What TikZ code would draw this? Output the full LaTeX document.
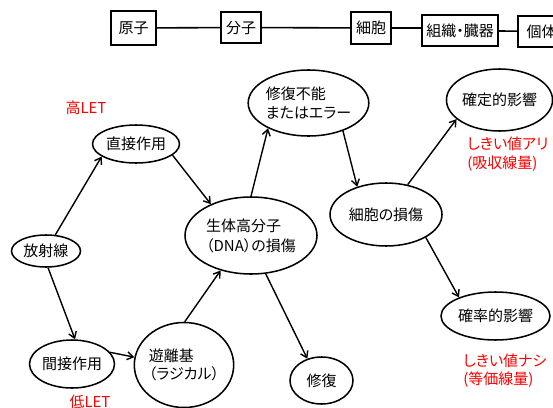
\documentclass[tikz,border=0pt]{standalone}
\usepackage{fontspec}
\setmainfont{Noto Sans CJK JP}[RawFeature=+palt]
\usetikzlibrary{arrows.meta,shapes}

\begin{document}
\begin{tikzpicture}[
    x=0.75pt, y=-0.75pt,
    level/.style={rectangle, draw=black, line width=1.6pt, inner sep=0pt, font=\fontsize{11.25}{13.5}\selectfont},
    stage/.style={ellipse, draw=black, line width=1.15pt, inner sep=0pt, align=left, font=\fontsize{11.25}{14}\selectfont},
    note/.style={text=red, align=left, inner sep=0pt, font=\fontsize{11.25}{14}\selectfont},
    arrow/.style={-{Straight Barb[length=4.5pt,width=6pt]}, line width=1.05pt},
    link/.style={line width=1.2pt}
]
\useasboundingbox (0,0) rectangle (553,407);

% Scale: from atom to organism
\node[level, minimum width=33.75pt, minimum height=25.5pt] (atom) at (133.5,28) {原子};
\node[level, minimum width=30pt, minimum height=23.25pt] (molecule) at (241,27.5) {分子};
\node[level, minimum width=30pt, minimum height=24pt] (cell) at (371,28) {細胞};
\node[level, minimum width=57pt, minimum height=23.25pt] (tissue) at (460,30.5) {組織・臓器};
\node[level, minimum width=35.25pt, minimum height=23.25pt] (body) at (541.5,31.5) {個体};

\draw[link] (atom) -- (molecule);
\draw[link] (molecule) -- (cell);
\draw[link] (cell.east) -- (cell.east -| tissue.west);
\draw[link] (tissue) -- (body);

% Radiation and its actions
\node[stage, minimum width=51.75pt, minimum height=24pt] (radiation) at (46,251) {放射線};
\node[stage, minimum width=65.25pt, minimum height=28.5pt] (direct) at (136,144) {直接作用};
\node[stage, minimum width=63.75pt, minimum height=36pt] (indirect) at (72,364) {間接作用};
\node[stage, minimum width=69.75pt, minimum height=63.75pt] (radical) at (184,365) {遊離基\\（ラジカル）};

\node[note] (highlet) at (86,108) {高LET};
\node[note] (lowlet) at (90,402) {低LET};

% Damage of the molecule
\node[stage, minimum width=99pt, minimum height=57.75pt, font=\fontsize{11.25}{15}\selectfont] (dna) at (251,235.5) {生体高分子\\（DNA）の損傷};
\node[stage, minimum width=87.75pt, minimum height=49.5pt] (error) at (308.5,103) {修復不能\\またはエラー};
\node[stage, minimum width=47.25pt, minimum height=35.25pt] (repair) at (321.5,380.5) {修復};

% Damage of the cell and its effects
\node[stage, minimum width=84pt, minimum height=47.25pt] (damage) at (386,214.5) {細胞の損傷};
\node[stage, minimum width=78.75pt, minimum height=46.5pt] (deterministic) at (499.5,100) {確定的影響};
\node[stage, minimum width=81.75pt, minimum height=36pt] (stochastic) at (495.5,316) {確率的影響};

\node[note, anchor=west] (threshold) at (467,154) {しきい値アリ\\(吸収線量)};
\node[note, anchor=west] (nothreshold) at (463,370.5) {しきい値ナシ\\(等価線量)};

% Arrows between stages
\draw[arrow] (radiation.60) -- (direct.200);
\draw[arrow] (radiation.277) -- (indirect.83);
\draw[arrow] (direct.343) -- (dna.142);
\draw[arrow] (indirect.17) -- (radical.171);
\draw[arrow] (radical.89) -- (dna.229);
\draw[arrow] (dna.90) -- (error.212);
\draw[arrow] (dna.291) -- (repair.123);
\draw[arrow] (error.321) -- (damage.136);
\draw[arrow] (damage.54) -- (deterministic.204);
\draw[arrow] (damage.330) -- (stochastic.153);

\end{tikzpicture}
\end{document}
